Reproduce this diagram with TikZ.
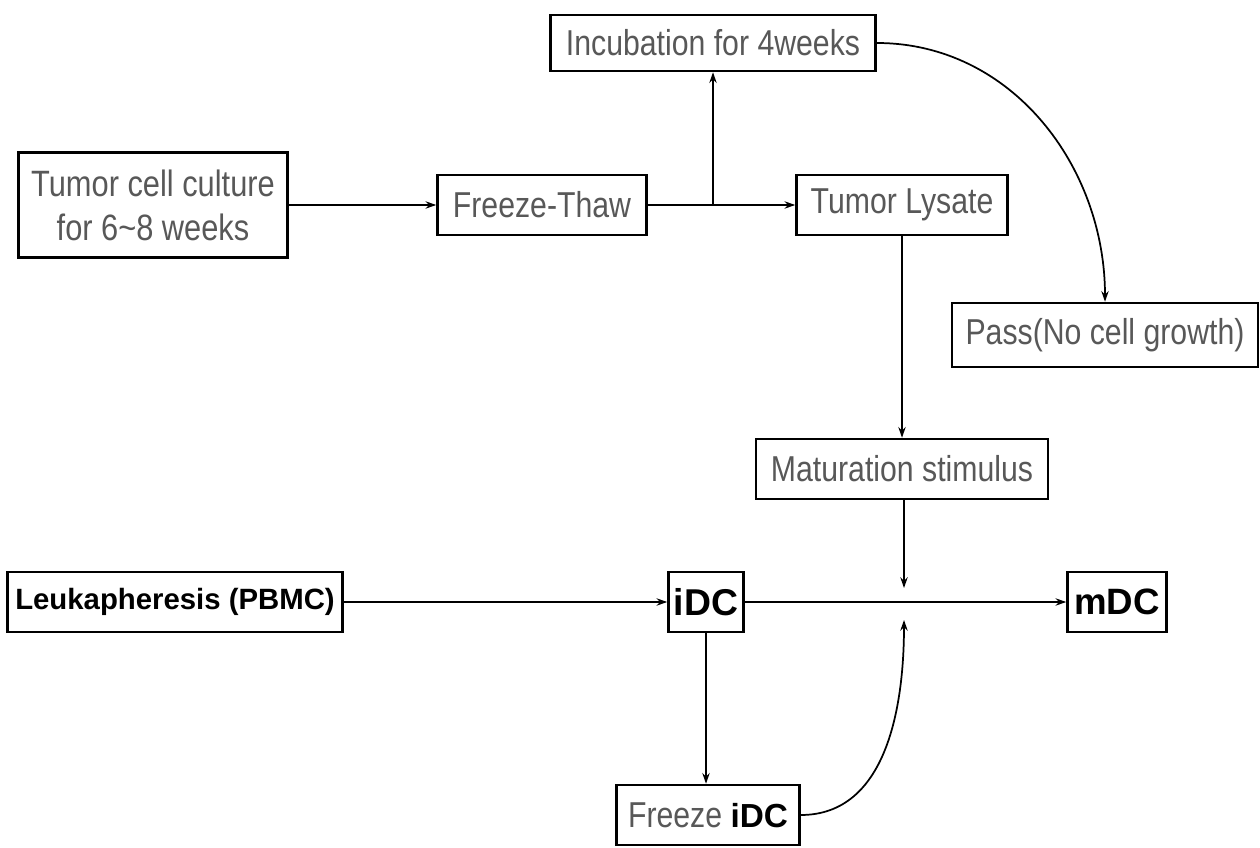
\documentclass[tikz,border=0pt]{standalone}
\usepackage{fontspec}
\setmainfont{Liberation Sans}
\newfontfamily\narrowfont[FakeStretch=0.84]{Liberation Sans}
\usepackage{tikz}
\usetikzlibrary{arrows.meta,positioning}
\definecolor{txtgray}{RGB}{88,88,88}
\newcommand{\fs}[1]{\fontsize{#1}{1.15\dimexpr#1pt\relax}\selectfont}
\tikzset{
  box/.style={draw,line width=1.9pt,rectangle,inner sep=0pt,align=center},
  thin box/.style={box,text=txtgray,font=\narrowfont\fs{27}},
  bold box/.style={box,font=\bfseries\fs{22}},
  flow/.style={line width=1.3pt,-{Stealth[length=8pt,width=5.5pt]}}
}
\begin{document}
\begin{tikzpicture}[x=0.75pt,y=-0.75pt]
  \useasboundingbox (0,0) rectangle (1260,848);
  % upper branch
  \node[thin box,minimum width=325*0.75pt,minimum height=56*0.75pt] (incub) at (713,43) {Incubation for 4weeks};
  \node[thin box,font=\narrowfont\fontsize{27.5}{33}\selectfont,minimum width=269*0.75pt,minimum height=105*0.75pt] (culture) at (153,205) {Tumor cell culture\\for 6\textasciitilde 8 weeks};
  \node[thin box,minimum width=209*0.75pt,minimum height=60*0.75pt] (thaw) at (542,205) {Freeze-Thaw};
  \node[thin box,minimum width=211*0.75pt,minimum height=60*0.75pt] (lysate) at (902,205) {Tumor Lysate};
  \node[thin box,minimum width=306*0.75pt,minimum height=64*0.75pt] (pass) at (1105,335) {Pass(No cell growth)};
  \node[thin box,minimum width=292*0.75pt,minimum height=60*0.75pt] (matur) at (902,469) {Maturation stimulus};
  % lower branch
  \node[bold box,minimum width=335*0.75pt,minimum height=60*0.75pt] (leuka) at (175,602) {Leukapheresis (PBMC)};
  \node[bold box,font=\bfseries\fs{28},minimum width=75*0.75pt,minimum height=60*0.75pt] (idc) at (706,602) {iDC};
  \node[bold box,font=\bfseries\fs{27.5},minimum width=99*0.75pt,minimum height=60*0.75pt] (mdc) at (1117,602) {mDC};
  \node[thin box,minimum width=183*0.75pt,minimum height=60*0.75pt] (frz) at (708,815) {Freeze {\color{black}\normalfont\bfseries\fs{25}iDC}};
  \coordinate (split) at (713,205);
  \coordinate (meet top) at (904,588);
  \coordinate (meet bot) at (904,620);
  % connectors
  \draw[flow] (culture) -- (thaw);
  \draw[flow] (thaw) -- (lysate);
  \draw[flow] (split) -- (split |- incub.south);
  \draw[flow] (incub.east) to[out=0,in=90] (pass.north);
  \draw[flow] (lysate) -- (matur);
  \draw[flow] (matur.south -| meet top) -- (meet top);
  \draw[flow] (leuka) -- (idc);
  \draw[flow] (idc) -- (mdc);
  \draw[flow] (idc) -- (idc |- frz.north);
  \draw[flow] (frz.east) to[out=0,in=-90] (meet bot);
\end{tikzpicture}
\end{document}
